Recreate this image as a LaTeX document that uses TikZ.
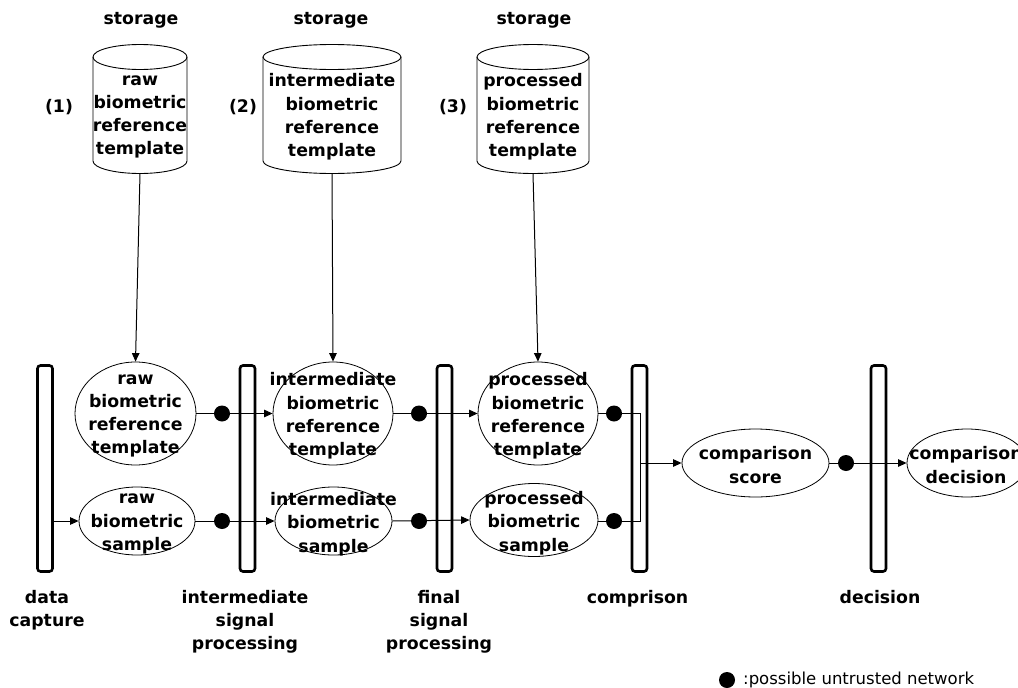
\documentclass[tikz,border=0pt]{standalone}
\usepackage{fontspec}
\setmainfont{DejaVu Sans}
\usetikzlibrary{arrows.meta,shapes.geometric}
\begin{document}
\begin{tikzpicture}[x=1pt,y=-1pt,
  lbl/.style={font=\fontsize{17.3}{23.3}\selectfont\bfseries, align=center, inner sep=0},
  ebox/.style={draw, ellipse, line width=0.8pt, inner sep=0},
  bar/.style={draw, line width=2.6pt, rounded corners=3pt, minimum width=15pt, minimum height=206pt, inner sep=0},
  net/.style={circle, fill=black, minimum size=16pt, inner sep=0},
  conn/.style={line width=1pt},
  arr/.style={conn, -{Triangle[length=8.5pt,width=7.5pt]}},
  cyl/.style={line width=0.9pt}
]
\useasboundingbox (0,0) rectangle (1018,688);

% storage labels
\node[lbl] (s1) at (141,20) {storage};
\node[lbl] (s2) at (331,20) {storage};
\node[lbl] (s3) at (534,20) {storage};
\node[lbl] (n1) at (59,107) {(1)};
\node[lbl] (n2) at (243,107) {(2)};
\node[lbl] (n3) at (453,107) {(3)};

% cylinders
\draw[cyl] (140,57) ellipse [x radius=47pt, y radius=12.5pt];
\draw[cyl] (93,57) -- (93,161) arc[start angle=180, end angle=360, x radius=47pt, y radius=12.5pt] -- (187,57);
\draw[cyl] (332,57) ellipse [x radius=69pt, y radius=12.5pt];
\draw[cyl] (263,57) -- (263,161) arc[start angle=180, end angle=360, x radius=69pt, y radius=12.5pt] -- (401,57);
\draw[cyl] (533,57) ellipse [x radius=56pt, y radius=12.5pt];
\draw[cyl] (477,57) -- (477,161) arc[start angle=180, end angle=360, x radius=56pt, y radius=12.5pt] -- (589,57);
\node[lbl] (c1t) at (140,117) {raw\\biometric\\reference\\template};
\node[lbl] (c2t) at (332,117) {intermediate\\biometric\\reference\\template};
\node[lbl] (c3t) at (533,117) {processed\\biometric\\reference\\template};
\coordinate (c1b) at (140,173.5);
\coordinate (c2b) at (332,173.5);
\coordinate (c3b) at (533,173.5);

% bars
\node[bar] (b1) at (45,468.5) {};
\node[bar] (b2) at (247.5,468.5) {};
\node[bar] (b3) at (444.5,468.5) {};
\node[bar] (b4) at (639.5,468.5) {};
\node[bar] (b5) at (878.5,468.5) {};

% ellipses
\node[ebox, minimum width=121pt, minimum height=103pt] (e1) at (135.5,413.5) {};
\node[ebox, minimum width=116pt, minimum height=68pt] (e2) at (137,521) {};
\node[ebox, minimum width=120pt, minimum height=103pt] (e3) at (333,413.5) {};
\node[ebox, minimum width=117pt, minimum height=68pt] (e4) at (333.5,521) {};
\node[ebox, minimum width=120pt, minimum height=103pt] (e5) at (538,413.5) {};
\node[ebox, minimum width=128pt, minimum height=73pt] (e6) at (534,520) {};
\node[ebox, minimum width=147pt, minimum height=68pt] (e7) at (755.5,463) {};
\node[ebox, minimum width=120pt, minimum height=68pt] (e8) at (967,463) {};

\node[lbl] (e1t) at (135.5,416) {raw\\biometric\\reference\\template};
\node[lbl] (e2t) at (137,524) {raw\\biometric\\sample};
\node[lbl] (e3t) at (333,416) {intermediate\\biometric\\reference\\template};
\node[lbl] (e4t) at (333.5,524) {intermediate\\biometric\\sample};
\node[lbl] (e5t) at (538,416) {processed\\biometric\\reference\\template};
\node[lbl] (e6t) at (534,523) {processed\\biometric\\sample};
\node[lbl] (e7t) at (755.5,465) {comparison\\score};
\node[lbl] (e8t) at (966,465) {comparison\\decision};

% storage connectors
\draw[arr] (c1b) -- (e1.north);
\draw[arr] (c2b) -- (e3.north);
\draw[arr] (c3b) -- (e5.north);

% flow connectors
\draw[arr] (b1.east |- e2.west) -- (e2.west);
\draw[arr] (e1.east) -- (e3.west);
\draw[arr] (e2.east) -- (e4.west);
\draw[arr] (e3.east) -- (e5.west);
\draw[arr] (e4.east) -- (e6.west);
\coordinate (j1) at (640,413.5);
\coordinate (j2) at (640,521);
\coordinate (j3) at (640,463);
\draw[conn] (e5.east) -- (j1) -- (j2) -- (e6.east |- j2);
\draw[arr] (j3) -- (e7.west);
\draw[arr] (e7.east) -- (e8.west);

% network dots
\node[net] (d1) at (222,413.5) {};
\node[net] (d2) at (222,521) {};
\node[net] (d3) at (419,413.5) {};
\node[net] (d4) at (419,521) {};
\node[net] (d5) at (614,413.5) {};
\node[net] (d6) at (614,521) {};
\node[net] (d7) at (846,463) {};

% bottom labels
\node[lbl, anchor=north] (l1) at (47,590) {data\\capture};
\node[lbl, anchor=north] (l2) at (245,590) {intermediate\\signal\\processing};
\node[lbl, anchor=north] (l3) at (439,590) {final\\signal\\processing};
\node[lbl, anchor=north] (l4) at (637.5,590) {comprison};
\node[lbl, anchor=north] (l5) at (880,590) {decision};

% legend
\node[net] (ld) at (727,680) {};
\node[anchor=west, inner sep=0, font=\fontsize{16.5}{20}\selectfont] (lt) at (743,680) {:possible untrusted network};
\end{tikzpicture}
\end{document}
